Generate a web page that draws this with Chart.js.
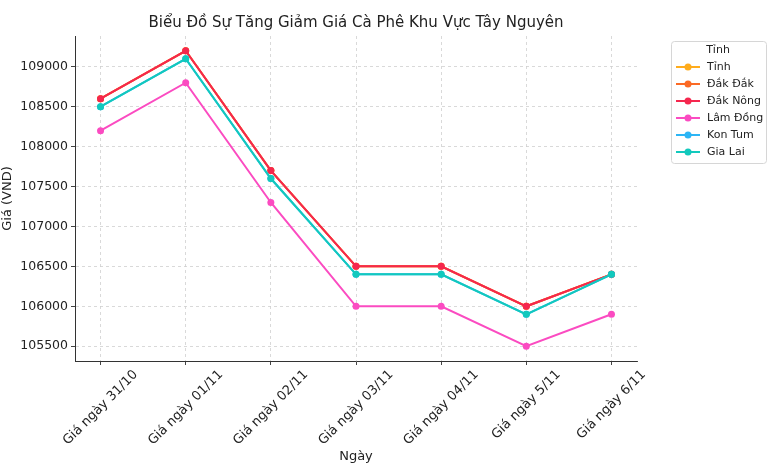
<!DOCTYPE html>
<html>
<head>
<meta charset="utf-8">
<script src="https://cdn.jsdelivr.net/npm/chart.js@4.4.0/dist/chart.umd.min.js"></script>
<style>
  html, body { margin: 0; padding: 0; background: #fff; }
  #wrap { width: 770px; height: 465px; }
</style>
</head>
<body>
<div id="wrap"><canvas id="coffee"></canvas></div>
<script>
// ngày
var days = ['Giá ngày 31/10', 'Giá ngày 01/11', 'Giá ngày 02/11', 'Giá ngày 03/11',
            'Giá ngày 04/11', 'Giá ngày 5/11', 'Giá ngày 6/11'];

var provinces = ['Tỉnh', 'Đắk Đắk', 'Đắk Nông', 'Lâm Đồng', 'Kon Tum', 'Gia Lai'];

var tinh     = [108600, 109200, 107700, 106500, 106500, 106000, 106400];
var dakDak   = [108600, 109200, 107700, 106500, 106500, 106000, 106400];
var dakNong  = [108600, 109200, 107700, 106500, 106500, 106000, 106400];
var lamDong  = [108200, 108800, 107300, 106000, 106000, 105500, 105900];
var konTum   = [108500, 109100, 107600, 106400, 106400, 105900, 106400];
var giaLai   = [108500, 109100, 107600, 106400, 106400, 105900, 106400];

var yTicks = [105500, 106000, 106500, 107000, 107500, 108000, 108500, 109000];

var colors = ['#ffac1c', '#fb6a25', '#f5274e', '#fb4bc1', '#2cb5f5', '#12c9bd'];
var series = [tinh, dakDak, dakNong, lamDong, konTum, giaLai];

var FONT = 'DejaVu Sans';

var datasets = series.map(function (vals, i) {
    return {
        label: provinces[i],
        data: vals.map(function (v, k) { return { x: k, y: v }; }),
        borderColor: colors[i],
        backgroundColor: colors[i],
        borderWidth: 2,
        pointRadius: 3.5,
        pointHoverRadius: 3.5,
        pointBorderWidth: 0,
        order: series.length - i
    };
});

// tiêu đề, nhãn trục x xoay, chú thích
var extras = {
    id: 'extras',
    afterDraw: function (chart) {
        var ctx = chart.ctx;
        var area = chart.chartArea;
        var xs = chart.scales.x;
        ctx.save();

        ctx.fillStyle = '#222';
        ctx.font = '15px "' + FONT + '"';
        ctx.textAlign = 'center';
        ctx.textBaseline = 'middle';
        ctx.fillText('Biểu Đồ Sự Tăng Giảm Giá Cà Phê Khu Vực Tây Nguyên', (area.left + area.right) / 2, 23);

        ctx.font = '13px "' + FONT + '"';
        days.forEach(function (d, k) {
            var px = xs.getPixelForValue(k);
            var w = ctx.measureText(d).width;
            var h = 13;
            var cy = area.bottom + 7 + (w + h) * Math.SQRT1_2 / 2;
            ctx.save();
            ctx.translate(px, cy);
            ctx.rotate(-Math.PI / 4);
            ctx.fillText(d, 0, 0);
            ctx.restore();
        });

        // chú thích
        var lx = 671, ly = 41, lw = 95, lh = 122;
        ctx.fillStyle = 'rgba(255,255,255,0.8)';
        ctx.strokeStyle = '#d6d6d6';
        ctx.lineWidth = 1;
        ctx.beginPath();
        ctx.roundRect(lx + 0.5, ly + 0.5, lw, lh, 3);
        ctx.fill();
        ctx.stroke();

        ctx.font = '11px "' + FONT + '"';
        ctx.fillStyle = '#222';
        ctx.textAlign = 'center';
        ctx.fillText('Tỉnh', 718, 50);
        ctx.textAlign = 'left';
        chart.data.datasets.forEach(function (ds, i) {
            var y = 67 + i * 17;
            ctx.strokeStyle = ds.borderColor;
            ctx.lineWidth = 2;
            ctx.beginPath();
            ctx.moveTo(676, y);
            ctx.lineTo(700, y);
            ctx.stroke();
            ctx.fillStyle = ds.borderColor;
            ctx.beginPath();
            ctx.arc(688, y, 3.5, 0, Math.PI * 2);
            ctx.fill();
            ctx.fillStyle = '#222';
            ctx.fillText(ds.label, 707, y);
        });
        ctx.restore();
    }
};

var config = {
    type: 'line',
    data: { datasets: datasets },
    options: {
        responsive: true,
        maintainAspectRatio: false,
        animation: false,
        layout: { padding: { left: 0, top: 36, right: 133, bottom: 0 } },
        plugins: {
            legend: { display: false },
            title: { display: false },
            tooltip: { enabled: false }
        },
        scales: {
            x: {
                type: 'linear',
                min: -0.3,
                max: 6.3,
                afterBuildTicks: function (axis) {
                    axis.ticks = days.map(function (d, k) { return { value: k }; });
                },
                afterFit: function (axis) { axis.height = 104; },
                ticks: { display: false },
                grid: {
                    color: '#d0d0d0',
                    lineWidth: 0.8,
                    tickColor: '#444',
                    tickLength: 4,
                    tickWidth: 1
                },
                border: { display: true, color: '#333', width: 1, dash: [3, 3] },
                title: {
                    display: true,
                    text: 'Ngày',
                    color: '#222',
                    font: { family: FONT, size: 13 },
                    padding: { top: 0, bottom: 1 }
                }
            },
            y: {
                min: 105315,
                max: 109385,
                afterBuildTicks: function (axis) {
                    axis.ticks = yTicks.map(function (v) { return { value: v }; });
                },
                afterFit: function (axis) { axis.width = 75; },
                ticks: {
                    color: '#222',
                    font: { family: FONT, size: 12.5 },
                    padding: 3,
                    callback: function (v) { return String(v); }
                },
                grid: {
                    color: '#d0d0d0',
                    lineWidth: 0.8,
                    tickColor: '#444',
                    tickLength: 4,
                    tickWidth: 1
                },
                border: { display: true, color: '#333', width: 1, dash: [3, 3] },
                title: {
                    display: true,
                    text: 'Giá (VND)',
                    color: '#222',
                    font: { family: FONT, size: 13 },
                    padding: { top: 0, bottom: 0 }
                }
            }
        }
    },
    plugins: [extras]
};

window.onload = function () {
    var ctx = document.getElementById('coffee').getContext('2d');
    window.coffeeChart = new Chart(ctx, config);
};
</script>
</body>
</html>
